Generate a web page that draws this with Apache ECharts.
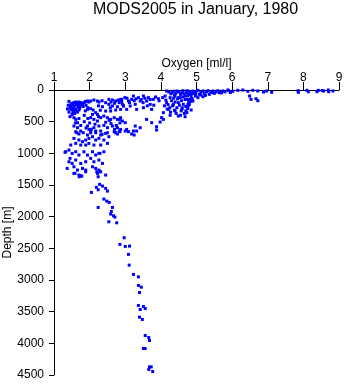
<!DOCTYPE html>
<html>
<head>
<meta charset="utf-8">
<script src="https://cdn.jsdelivr.net/npm/echarts@6/dist/echarts.min.js"></script>
<style>
  html, body { margin: 0; padding: 0; background: #fff; }
  #chart { width: 345px; height: 384px; }
</style>
</head>
<body>
<div id="chart"></div>
<script>
// Oxygen [ml/l] vs depth [m] for each profile sample, grouped by depth band
const surfaceLayer = [
  [4.75,16],[4.90,16],[5.04,5],[5.18,16],[5.32,11],[5.46,16],[5.60,11],[4.80,69],[4.94,53],[5.08,69],
  [5.22,53],[5.36,69],[5.50,53],[5.64,42],[4.85,111],[5.04,121],[5.18,106],[4.75,148],[4.90,174],[5.74,16],
  [5.88,0],[6.02,21],[6.16,5],[6.30,0],[6.44,21],[6.58,5],[6.72,16],[6.88,32],[6.49,95],[6.53,148],
  [6.67,137],[6.72,169],[6.97,16],[7.11,37],[7.86,37],[8.14,27],[8.38,27],[8.57,16],[8.71,27],[8.83,16],
  [7.85,10],[8.10,5],[8.42,5],[8.53,8],[8.70,0],
  [2.90,148],[2.99,121],[3.09,174],[3.18,148],[3.23,95],[3.37,121],[3.51,95],[3.65,121],[3.79,148],[3.93,137],
  [3.42,174],[3.60,174],[4.16,16],[4.31,42],[4.45,16],[4.59,42],[4.73,16],[4.12,95],[4.26,121],[4.40,95],
  [4.54,121],[4.68,95],[4.80,148],[4.16,200],[4.49,200],
  [1.94,174],[2.03,174],[2.12,158],[2.22,174],[2.26,190],[2.54,148],[2.64,158],[2.73,174],[2.87,148],[1.61,190],
  [1.56,200],[1.66,200],[1.75,200],[2.83,200],
  [4.98,40],[5.12,35],[5.28,30],[5.42,40],[5.55,30],[5.70,45],[5.80,30],[5.95,40],[5.25,85],[5.12,80],
  [4.98,90],[5.40,30],[5.90,10],[4.22,30],[4.28,60],[4.35,20],[4.38,80],[4.42,50],[4.47,140],[4.50,30],
  [4.55,70],[4.58,170],[4.62,10],[4.65,60],[4.68,150],[4.72,40],[4.75,90],[4.78,190],[4.82,30],[4.85,70],
  [4.88,140],[4.90,50],[4.95,25],[4.97,95],[4.30,170],[4.40,190],[4.50,120],[4.62,110],[4.84,180],[4.36,130],
  [4.14,160],[2.80,160],[2.90,180],[3.05,130],[3.12,200],[3.25,170],[3.30,140],[3.45,150],[3.55,130],[3.70,150],
  [3.85,110],[3.95,170],[4.05,120],[1.85,200],[1.88,180],[1.70,190],[2.60,190],
  [1.42,180],[1.98,190],[2.35,170],[2.45,200]
];

const subsurfaceLayer = [
  [1.47,253],[1.51,227],[1.70,227],[1.80,227],[1.47,306],[1.54,295],[1.61,316],[1.66,348],[1.58,358],[1.70,316],
  [2.92,227],[2.54,227],[2.64,253],[2.78,264],[2.36,264],[2.45,332],[2.59,332],[2.73,316],[2.87,306],[1.94,306],
  [2.03,295],[2.10,316],[2.17,358],[2.22,385],[2.08,385],[2.03,437],[2.12,464],[2.22,490],[2.31,437],[2.40,411],
  [2.50,437],[2.59,464],[2.69,437],[2.78,464],[2.87,437],[2.92,490],[1.51,385],[1.56,437],[1.61,464],[1.66,516],
  [1.56,569],[1.66,595],[1.94,569],[2.12,595],[2.26,569],[2.40,559],[2.50,595],[2.64,569],[2.78,595],
  [2.95,253],[3.14,253],[3.04,306],[3.28,227],[3.70,227],[3.32,306],[3.51,279],[3.74,306],[4.35,227],[4.63,227],
  [4.77,253],[4.21,306],[4.40,332],[4.59,306],[4.73,358],[4.26,400],[4.49,411],[4.68,422],[4.07,358],[4.02,437],
  [2.85,464],[3.00,516],[3.28,569],[3.42,595],[3.60,464],[3.74,516],[3.88,580],[3.98,506],[4.07,464],
  [4.80,227],[4.75,295],[4.85,316],
  [4.70,260],[4.33,250],[4.45,280],[4.52,240],[4.57,330],[4.60,280],[4.66,370],[4.70,330],[4.43,370],[4.38,320],
  [4.25,280],[4.20,230],[4.27,350],[4.76,230],[4.55,400],[4.10,250],[4.18,300],[1.48,220],[1.50,280],[1.53,340],
  [1.57,250],[1.60,300],[1.63,230],[1.67,270],[1.72,290],[1.74,250],[1.78,210],[1.82,260],[1.55,320],[1.65,340],
  [1.45,270],[1.52,210],[1.58,370],[2.70,210],[2.95,250],[2.58,280],[3.50,200],[3.62,250],[3.80,240],[2.00,520],
  [2.15,540],[2.45,510],[2.60,530],[2.75,560],[2.85,520],[1.95,450],[2.25,420],[2.55,480],[1.75,560],[1.85,500],
  [1.70,450],[1.60,520],
  [1.40,240],[1.38,300],[1.42,350],[1.90,240],[1.95,280],[1.88,330],[1.85,400],[1.45,420],[2.30,320],[2.25,250]
];

const intermediateLayer = [
  [1.64,675],[1.75,648],[1.82,675],[1.98,622],[2.87,622],[2.31,648],[2.50,675],[2.73,675],[2.03,675],[2.17,675],
  [3.04,622],[3.23,648],
  [1.61,658],[1.70,695],[1.94,711],[2.03,658],[2.17,648],[2.31,711],[2.45,685],[2.54,737],[2.69,658],[2.78,695],
  [2.83,648],[1.56,764],[1.70,790],[1.80,816],[1.89,790],[1.98,764],[2.08,737],[2.17,790],[2.26,764],[2.40,790],
  [2.50,843],[1.47,869],[1.61,843],[1.75,869],[1.89,869],[1.98,843],[2.12,869],[2.31,869],[1.33,975],[1.42,948],
  [1.51,1001],[1.61,975],[1.70,1027],[1.84,975],[1.94,1027],[2.08,975],[2.17,1027],[2.26,1001],[2.40,975],[1.42,1133],
  [1.51,1159],[1.61,1106],[1.75,1159],[1.89,1133],[2.03,1080],[2.12,1133],[2.26,1106],[2.36,1159],[1.37,1238],[1.56,1212],
  [1.66,1264],[1.80,1238],[1.89,1264],[2.08,1212],[2.17,1238],[2.26,1264],[1.56,1317],[1.70,1343],[1.89,1291],[2.22,1317],
  [2.31,1291],[2.45,1343],
  [2.85,658],[3.00,648],[3.09,658],[3.18,695],[3.25,711],[3.32,648],[3.88,632],
  [1.31,984],[1.45,1079],[1.59,1316],[1.71,1370],[1.78,1360],[2.29,1000],[2.20,1290],[2.29,1290],
  [2.70,620],[2.35,700],[2.05,620],[1.90,600]
];

const deepLayer = [
  [1.75,1354],[2.24,1370],[2.28,1490],[2.19,1537],[2.36,1517],[2.24,1575],[2.45,1553],[2.50,1596],[2.05,1617],[2.40,1722],
  [2.48,1754],[2.55,1775],[2.24,1854],[2.64,1854],[2.61,1917],[2.59,1959],[2.67,1986],[2.71,2007],[2.54,2081],[2.76,2097],
  [2.97,2333],[2.85,2438],[3.00,2470],[3.12,2465],[3.09,2596],[3.11,2765],[3.23,2912],[3.37,2950],[3.37,3086],[3.45,3113],
  [3.40,3197],[3.37,3402],[3.51,3418],[3.42,3465],[3.56,3450],[3.40,3587],[3.48,3623],[3.56,3876],[3.66,3908],[3.68,3955],
  [3.51,4082],[3.56,4082],[3.68,4372],[3.73,4372],[3.66,4413],[3.77,4445]
];

const samples = surfaceLayer.concat(subsurfaceLayer, intermediateLayer, deepLayer);

const FONT = '"Liberation Sans", Arial, Helvetica, sans-serif';
const plain = v => String(v);

const chart = echarts.init(document.getElementById('chart'), null, { renderer: 'canvas' });
chart.setOption({
  animation: false,
  backgroundColor: '#ffffff',
  title: {
    text: 'MODS2005 in January, 1980',
    left: 93,
    top: 2,
    padding: 0,
    textStyle: { fontFamily: FONT, fontSize: 16, fontWeight: 'normal', color: '#000' }
  },
  grid: { left: 54, right: 6, top: 90, bottom: 9, containLabel: false, outerBoundsMode: 'none' },
  xAxis: {
    type: 'value',
    position: 'top',
    min: 1, max: 9, interval: 1,
    name: 'Oxygen [ml/l]',
    nameLocation: 'middle',
    nameGap: 20,
    nameMoveOverlap: false,
    nameTextStyle: { fontFamily: FONT, fontSize: 12, color: '#000' },
    axisLine: { show: true, onZero: false, lineStyle: { color: '#000', width: 1 } },
    axisTick: { show: true, length: 8, lineStyle: { color: '#000', width: 1 } },
    axisLabel: { margin: 6, fontFamily: FONT, fontSize: 12, color: '#000', formatter: plain },
    splitLine: { show: false }
  },
  yAxis: {
    type: 'value',
    inverse: true,
    min: 0, max: 4500, interval: 500,
    name: 'Depth [m]',
    nameLocation: 'middle',
    nameGap: 40,
    nameMoveOverlap: false,
    nameTextStyle: { fontFamily: FONT, fontSize: 12, color: '#000' },
    axisLine: { show: true, onZero: false, lineStyle: { color: '#000', width: 1 } },
    axisTick: { show: true, length: 5, lineStyle: { color: '#000', width: 1 } },
    axisLabel: { margin: 10, fontFamily: FONT, fontSize: 12, color: '#000', formatter: plain },
    splitLine: { show: false }
  },
  series: [{
    type: 'scatter',
    data: samples,
    symbol: 'rect',
    symbolSize: [3, 3],
    itemStyle: { color: '#0000ff', opacity: 1 },
    silent: true
  }]
});
</script>
</body>
</html>
